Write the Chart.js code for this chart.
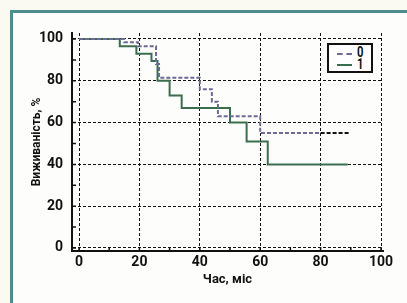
<!DOCTYPE html>
<html>
<head>
<meta charset="utf-8">
<script src="https://cdn.jsdelivr.net/npm/chart.js@4.4.0/dist/chart.umd.min.js"></script>
<style>
  html, body { margin: 0; padding: 0; background: #fafaf3; }
  #wrap { position: relative; width: 407px; height: 303px; overflow: hidden; }
  #frame { position: absolute; left: 10px; top: 10px; right: -5px; bottom: -5px;
           border-left: 3px solid #4f8c90; border-top: 3px solid #4f8c90; background: #fdfefc; }
  #chart { position: absolute; left: 0; top: 0; }
  #legend { position: absolute; left: 327px; top: 43px; width: 46px; height: 30px; box-sizing: border-box;
            border: 2px solid #111; background: #fff; font-family: Roboto, sans-serif; font-weight: bold; }
  .sample { position: absolute; left: 8px; width: 15px; height: 0; }
  .lbl { position: absolute; left: 28px; font-size: 15px; line-height: 15px; color: #111;
         transform: scaleX(0.75); transform-origin: left top; }
</style>
</head>
<body>
<div id="wrap">
  <div id="frame"></div>
  <canvas id="chart" width="407" height="303"></canvas>
  <div id="legend">
    <div class="sample" style="top:8px;border-top:2px dashed #6d6a96"></div><span class="lbl" style="top:0px">0</span>
    <div class="sample" style="top:19px;border-top:2px solid #3b6e4f"></div><span class="lbl" style="top:12px">1</span>
  </div>
</div>
<script>
// axis ticks
var xTicks = [0, 20, 40, 60, 80, 100];
var yTicks = [0, 20, 40, 60, 80, 100];

// group 0 (dashed)
var time0 = [0, 15, 19.5, 25.5, 26.5, 40, 44, 46, 60, 80, 89.7];
var surv0 = [100, 98.5, 96.5, 88, 81.5, 76, 70, 63, 55, 55, 55];

// group 1 (solid)
var time1 = [0, 13.5, 19, 24, 26, 30, 34, 50, 55.5, 62.5, 89];
var surv1 = [100, 96.5, 93, 89.5, 80, 73, 67, 60, 51, 40, 40];

var labels = ['0', '1'];

function toPoints(t, s) {
  return t.map(function (v, i) { return { x: v, y: s[i] }; });
}

// small inward ticks every 10
const minorTicks = {
  id: 'minorTicks',
  afterDatasetsDraw(chart) {
    const { ctx, chartArea, scales } = chart;
    ctx.save();
    ctx.strokeStyle = '#111';
    ctx.lineWidth = 1.5;
    ctx.beginPath();
    for (let v = 0; v <= 100; v += 10) {
      const px = scales.x.getPixelForValue(v);
      ctx.moveTo(px, chartArea.bottom);
      ctx.lineTo(px, chartArea.bottom - 4);
      const py = scales.y.getPixelForValue(v);
      ctx.moveTo(chartArea.left, py);
      ctx.lineTo(chartArea.left + 4, py);
    }
    ctx.stroke();
    ctx.restore();
  }
};

const tickFont = { family: 'Roboto', size: 14, weight: 'bold' };

new Chart(document.getElementById('chart'), {
  type: 'line',
  data: {
    datasets: [{
      label: labels[0],
      data: toPoints(time0, surv0),
      borderColor: '#6d6a96',
      borderWidth: 2,
      borderDash: [4, 2],
      stepped: true,
      pointRadius: 0,
      segment: {
        borderColor: ctx => ctx.p0.parsed.x >= 80 ? '#111' : undefined
      }
    }, {
      label: labels[1],
      data: toPoints(time1, surv1),
      borderColor: '#3b6e4f',
      borderWidth: 2,
      stepped: true,
      pointRadius: 0
    }]
  },
  plugins: [minorTicks],
  options: {
    responsive: false,
    animation: false,
    layout: { padding: { left: 0, top: 33, right: 24, bottom: 0 } },
    plugins: { legend: { display: false }, tooltip: { enabled: false } },
    scales: {
      x: {
        type: 'linear',
        min: -2.32,
        max: 100.66,
        afterFit: s => { s.height = 52; },
        afterBuildTicks: s => { s.ticks = xTicks.map(v => ({ value: v })); },
        grid: { color: '#111', lineWidth: 1, drawTicks: false },
        border: { color: '#111', width: 2, dash: [3, 2] },
        ticks: { color: '#111', font: tickFont, padding: 3, maxRotation: 0 },
        title: { display: true, text: 'Час, міс', color: '#111',
                 font: { family: 'Roboto', size: 13, weight: 'bold' }, padding: { bottom: 15 } }
      },
      y: {
        min: -1.44,
        max: 102.87,
        afterFit: s => { s.width = 72; },
        afterBuildTicks: s => { s.ticks = yTicks.map(v => ({ value: v })); },
        grid: { color: '#111', lineWidth: 1, drawTicks: false },
        border: { color: '#111', width: 2, dash: [3, 2] },
        ticks: { color: '#111', font: tickFont, padding: 9 },
        title: { display: true, text: 'Виживаність, %', color: '#111',
                 font: { family: 'Roboto', size: 12, weight: 'bold' }, padding: { top: 30 } }
      }
    }
  }
});
</script>
</body>
</html>
